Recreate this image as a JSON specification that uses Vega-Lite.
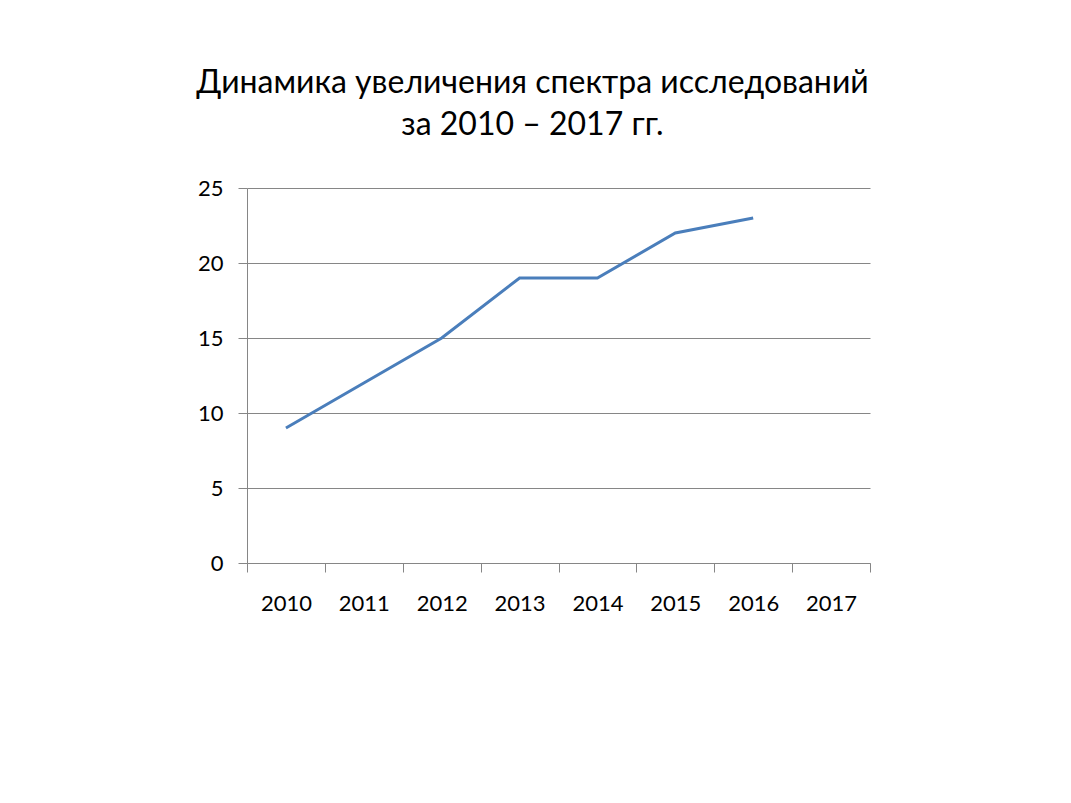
{
  "$schema": "https://vega.github.io/schema/vega-lite/v6.json",
  "autosize": {"type": "none"},
  "width": 623,
  "height": 375,
  "padding": {"left": 247, "top": 188, "right": 201, "bottom": 240},
  "background": "white",
  "title": {
    "text": ["Динамика увеличения спектра исследований", "за 2010 – 2017 гг."],
    "font": "Lato",
    "fontSize": 32,
    "fontWeight": "normal",
    "color": "black",
    "anchor": "middle",
    "lineHeight": 42,
    "offset": 35,
    "dx": -26
  },
  "data": {
    "values": [
      {"year": "2010", "value": 9},
      {"year": "2011", "value": 12},
      {"year": "2012", "value": 15},
      {"year": "2013", "value": 19},
      {"year": "2014", "value": 19},
      {"year": "2015", "value": 22},
      {"year": "2016", "value": 23},
      {"year": "2017", "value": null}
    ]
  },
  "mark": {"type": "line", "color": "#4a7ebb", "strokeWidth": 3},
  "encoding": {
    "x": {
      "field": "year",
      "type": "ordinal",
      "scale": {"domain": ["2010", "2011", "2012", "2013", "2014", "2015", "2016", "2017"], "paddingInner": 0, "paddingOuter": 0},
      "axis": {
        "title": null,
        "labelAngle": 0,
        "tickBand": "extent",
        "grid": false,
        "domainColor": "#868686",
        "tickColor": "#868686",
        "tickSize": 9,
        "labelFont": "Lato",
        "labelFontSize": 22,
        "labelColor": "black",
        "labelPadding": 21
      }
    },
    "y": {
      "field": "value",
      "type": "quantitative",
      "scale": {"domain": [0, 25], "nice": false},
      "axis": {
        "title": null,
        "values": [0, 5, 10, 15, 20, 25],
        "grid": true,
        "gridColor": "#868686",
        "gridWidth": 1,
        "domainColor": "#868686",
        "tickColor": "#868686",
        "tickSize": 9,
        "labelFont": "Lato",
        "labelFontSize": 22,
        "labelColor": "black",
        "labelPadding": 15
      }
    }
  },
  "config": {"view": {"stroke": null}}
}
